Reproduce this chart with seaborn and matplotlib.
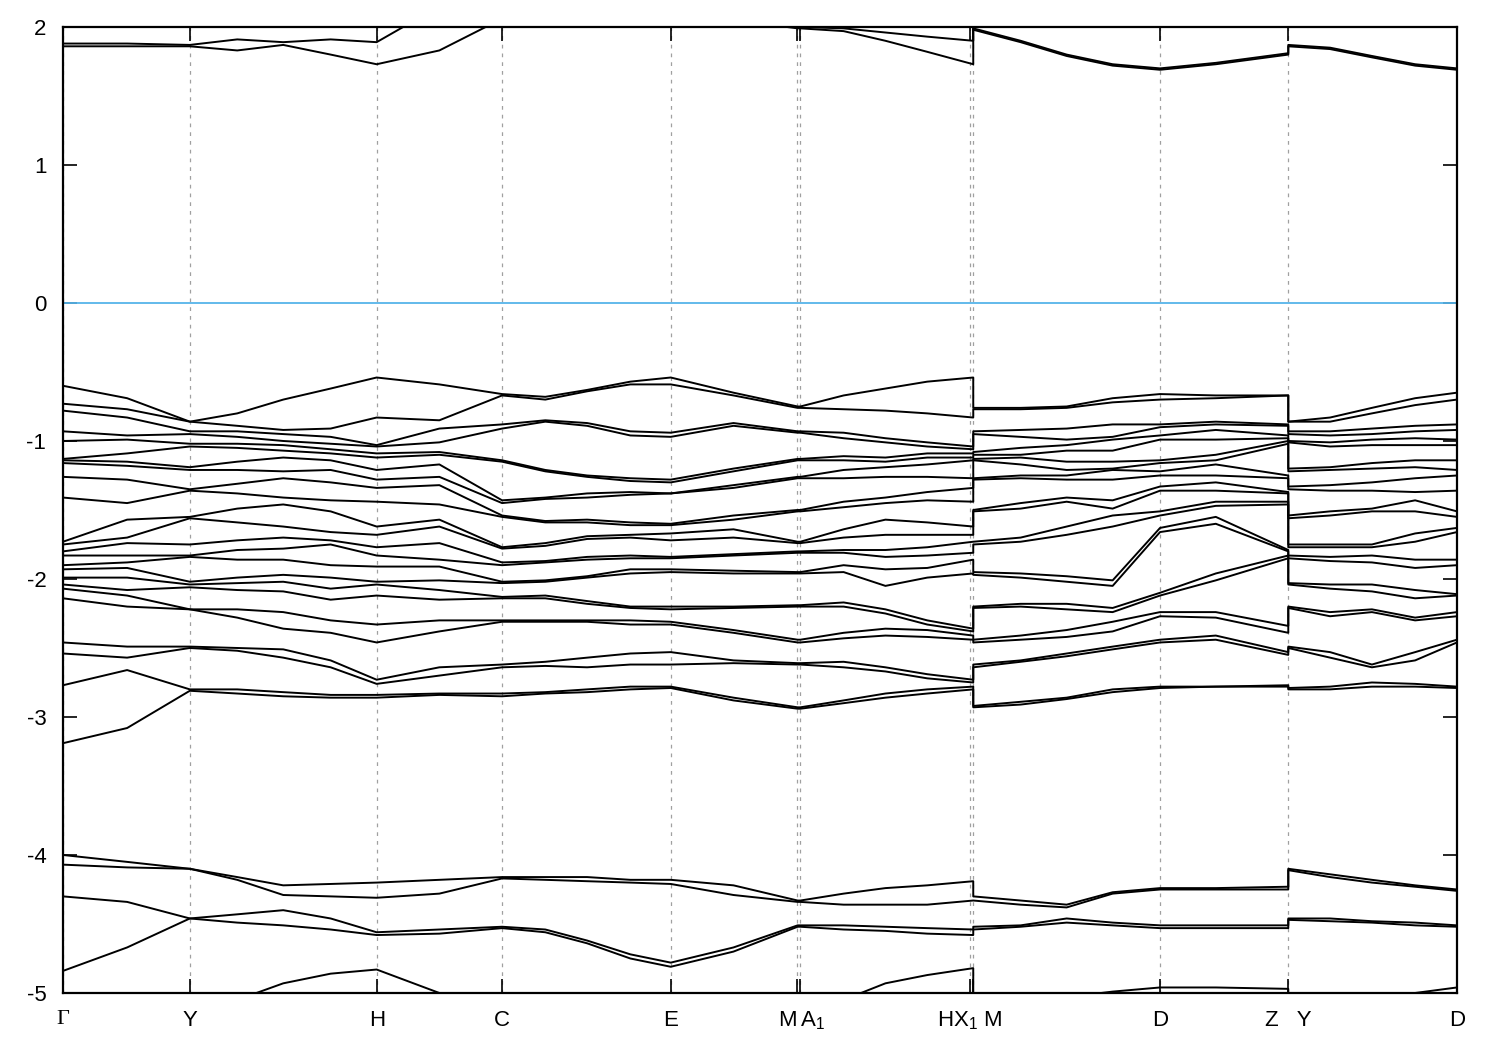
import numpy as np
import pandas as pd
import matplotlib
matplotlib.use("Agg")
import matplotlib.pyplot as plt
import seaborn as sns

# ------------------------------------------------------------------
# k-path (fraction of total path length) of each sampled point
# the two repeated values are the discontinuities H|X1 and Z|Y
# ------------------------------------------------------------------
kpath = [0.000, 0.046, 0.091, 0.125, 0.158, 0.192, 0.225, 0.270, 0.315, 0.346,
         0.376, 0.407, 0.436, 0.481, 0.527, 0.529, 0.560, 0.590, 0.620, 0.653,
         0.653, 0.687, 0.720, 0.753, 0.787, 0.827, 0.879, 0.879, 0.909, 0.939,
         0.970, 1.000]

tick_pos = [0.0, 0.0911, 0.2253, 0.3149, 0.4362, 0.5265, 0.5287, 0.6506, 0.6528,
            0.7869, 0.8788, 1.0]
tick_labels = ["Γ", "Y", "H", "C", "E", "M", "A$_1$", "HX$_1$ M", "", "D", "Z   Y", "D"]

# energies (eV) of the occupied bands at each k point, highest first
e_k00 = [-0.60, -0.73, -0.78, -0.93, -1.00, -1.13, -1.14, -1.16, -1.26, -1.41, -1.73, -1.75, -1.80, -1.83,
         -1.90, -1.93, -1.99, -2.04, -2.07, -2.14, -2.46, -2.54, -2.77, -3.19, -4.00, -4.07, -4.30, -4.84]
e_k01 = [-0.69, -0.77, -0.83, -0.96, -0.99, -1.09, -1.15, -1.18, -1.28, -1.45, -1.57, -1.70, -1.74, -1.83,
         -1.88, -1.92, -1.99, -2.08, -2.12, -2.20, -2.49, -2.57, -2.66, -3.08, -4.05, -4.09, -4.34, -4.67]
e_k02 = [-0.86, -0.86, -0.93, -0.95, -1.02, -1.04, -1.19, -1.21, -1.35, -1.36, -1.55, -1.56, -1.75, -1.83,
         -1.84, -2.02, -2.04, -2.06, -2.22, -2.22, -2.49, -2.50, -2.80, -2.81, -4.10, -4.10, -4.46, -4.46]
e_k03 = [-0.80, -0.89, -0.93, -0.97, -1.02, -1.05, -1.15, -1.21, -1.31, -1.38, -1.49, -1.59, -1.72, -1.79,
         -1.86, -1.99, -2.03, -2.08, -2.22, -2.28, -2.50, -2.52, -2.80, -2.83, -4.16, -4.18, -4.43, -4.49]
e_k04 = [-0.70, -0.92, -0.95, -1.00, -1.03, -1.07, -1.12, -1.22, -1.27, -1.41, -1.46, -1.62, -1.70, -1.78,
         -1.86, -1.97, -2.02, -2.09, -2.24, -2.36, -2.51, -2.57, -2.82, -2.85, -4.22, -4.29, -4.40, -4.51]
e_k05 = [-0.62, -0.91, -0.97, -1.02, -1.06, -1.09, -1.14, -1.21, -1.30, -1.43, -1.51, -1.66, -1.72, -1.75,
         -1.90, -1.99, -2.07, -2.15, -2.30, -2.39, -2.59, -2.64, -2.84, -2.86, -4.21, -4.30, -4.46, -4.54]
e_k06 = [-0.54, -0.83, -1.03, -1.04, -1.09, -1.12, -1.21, -1.28, -1.34, -1.44, -1.62, -1.68, -1.77, -1.83,
         -1.91, -2.02, -2.04, -2.12, -2.33, -2.46, -2.73, -2.76, -2.84, -2.86, -4.20, -4.31, -4.56, -4.58]
e_k07 = [-0.59, -0.85, -0.91, -1.01, -1.08, -1.10, -1.17, -1.26, -1.32, -1.46, -1.57, -1.62, -1.74, -1.86,
         -1.91, -2.01, -2.08, -2.15, -2.30, -2.38, -2.64, -2.70, -2.83, -2.84, -4.18, -4.28, -4.54, -4.57]
e_k08 = [-0.66, -0.67, -0.88, -0.91, -1.14, -1.15, -1.43, -1.45, -1.54, -1.55, -1.77, -1.78, -1.88, -1.90,
         -2.02, -2.03, -2.13, -2.14, -2.30, -2.31, -2.62, -2.64, -2.83, -2.85, -4.16, -4.17, -4.52, -4.53]
e_k09 = [-0.68, -0.70, -0.85, -0.86, -1.21, -1.22, -1.41, -1.42, -1.58, -1.59, -1.74, -1.76, -1.87, -1.88,
         -2.01, -2.02, -2.12, -2.14, -2.30, -2.31, -2.60, -2.63, -2.82, -2.83, -4.16, -4.18, -4.54, -4.56]
e_k10 = [-0.63, -0.64, -0.87, -0.89, -1.25, -1.26, -1.38, -1.41, -1.57, -1.59, -1.69, -1.71, -1.84, -1.86,
         -1.98, -1.99, -2.16, -2.18, -2.30, -2.31, -2.57, -2.64, -2.80, -2.82, -4.16, -4.19, -4.62, -4.64]
e_k11 = [-0.57, -0.59, -0.93, -0.96, -1.27, -1.29, -1.37, -1.39, -1.59, -1.61, -1.68, -1.70, -1.83, -1.85,
         -1.93, -1.96, -2.20, -2.21, -2.30, -2.33, -2.54, -2.62, -2.78, -2.80, -4.18, -4.20, -4.72, -4.75]
e_k12 = [-0.54, -0.59, -0.94, -0.97, -1.28, -1.30, -1.38, -1.38, -1.60, -1.61, -1.67, -1.72, -1.84, -1.85,
         -1.93, -1.95, -2.20, -2.22, -2.31, -2.33, -2.53, -2.62, -2.78, -2.79, -4.18, -4.21, -4.78, -4.81]
e_k13 = [-0.65, -0.67, -0.87, -0.89, -1.20, -1.22, -1.32, -1.34, -1.54, -1.57, -1.64, -1.70, -1.82, -1.83,
         -1.94, -1.96, -2.20, -2.21, -2.37, -2.39, -2.59, -2.61, -2.86, -2.88, -4.22, -4.29, -4.67, -4.70]
e_k14 = [-0.75, -0.76, -0.93, -0.94, -1.13, -1.14, -1.26, -1.27, -1.50, -1.51, -1.73, -1.74, -1.80, -1.81,
         -1.95, -1.96, -2.19, -2.20, -2.44, -2.46, -2.61, -2.62, -2.93, -2.94, -4.33, -4.34, -4.51, -4.52]
e_k15 = [-0.75, -0.76, -0.93, -0.94, -1.13, -1.14, -1.26, -1.27, -1.50, -1.51, -1.73, -1.74, -1.80, -1.81,
         -1.95, -1.96, -2.19, -2.20, -2.44, -2.46, -2.61, -2.62, -2.93, -2.94, -4.33, -4.34, -4.51, -4.52]
e_k16 = [-0.67, -0.77, -0.94, -0.98, -1.11, -1.14, -1.21, -1.27, -1.44, -1.48, -1.64, -1.70, -1.79, -1.81,
         -1.90, -1.95, -2.17, -2.20, -2.39, -2.43, -2.60, -2.64, -2.88, -2.90, -4.28, -4.36, -4.51, -4.54]
e_k17 = [-0.62, -0.78, -0.98, -1.01, -1.12, -1.15, -1.19, -1.26, -1.41, -1.45, -1.57, -1.68, -1.79, -1.84,
         -1.93, -2.05, -2.22, -2.25, -2.36, -2.41, -2.64, -2.67, -2.83, -2.86, -4.24, -4.36, -4.52, -4.55]
e_k18 = [-0.57, -0.80, -1.01, -1.04, -1.09, -1.12, -1.17, -1.26, -1.37, -1.43, -1.59, -1.68, -1.77, -1.83,
         -1.92, -1.99, -2.30, -2.33, -2.37, -2.42, -2.69, -2.72, -2.80, -2.83, -4.22, -4.36, -4.53, -4.57]
e_k19 = [-0.54, -0.83, -1.04, -1.06, -1.09, -1.12, -1.14, -1.27, -1.34, -1.44, -1.62, -1.68, -1.73, -1.81,
         -1.86, -1.96, -2.36, -2.38, -2.41, -2.44, -2.73, -2.75, -2.78, -2.80, -4.19, -4.33, -4.54, -4.58]
e_k20 = [-0.76, -0.77, -0.93, -0.95, -1.08, -1.10, -1.13, -1.14, -1.27, -1.28, -1.50, -1.51, -1.73, -1.75,
         -1.95, -1.97, -2.20, -2.21, -2.44, -2.46, -2.62, -2.64, -2.92, -2.93, -4.30, -4.33, -4.52, -4.54]
e_k21 = [-0.76, -0.77, -0.92, -0.97, -1.05, -1.10, -1.12, -1.17, -1.25, -1.27, -1.45, -1.49, -1.70, -1.73,
         -1.96, -1.99, -2.18, -2.20, -2.41, -2.44, -2.59, -2.60, -2.89, -2.91, -4.33, -4.36, -4.51, -4.52]
e_k22 = [-0.75, -0.76, -0.91, -0.99, -1.03, -1.07, -1.15, -1.21, -1.25, -1.28, -1.41, -1.44, -1.62, -1.68,
         -1.98, -2.02, -2.18, -2.22, -2.37, -2.42, -2.54, -2.56, -2.86, -2.87, -4.36, -4.38, -4.46, -4.49]
e_k23 = [-0.69, -0.72, -0.88, -0.97, -0.99, -1.07, -1.15, -1.20, -1.21, -1.28, -1.43, -1.49, -1.54, -1.62,
         -2.01, -2.05, -2.21, -2.24, -2.31, -2.38, -2.49, -2.51, -2.80, -2.82, -4.27, -4.28, -4.49, -4.51]
e_k24 = [-0.66, -0.70, -0.88, -0.90, -0.96, -0.99, -1.14, -1.16, -1.22, -1.25, -1.33, -1.36, -1.51, -1.54,
         -1.63, -1.66, -2.10, -2.12, -2.24, -2.27, -2.44, -2.46, -2.78, -2.79, -4.24, -4.25, -4.51, -4.53]
e_k25 = [-0.67, -0.69, -0.86, -0.88, -0.92, -0.99, -1.10, -1.14, -1.17, -1.25, -1.30, -1.36, -1.44, -1.47,
         -1.55, -1.60, -1.96, -2.01, -2.24, -2.28, -2.41, -2.44, -2.78, -2.78, -4.24, -4.25, -4.51, -4.53]
e_k26 = [-0.67, -0.67, -0.88, -0.89, -0.96, -0.98, -1.00, -1.02, -1.25, -1.27, -1.37, -1.38, -1.44, -1.46,
         -1.79, -1.80, -1.83, -1.85, -2.34, -2.39, -2.53, -2.55, -2.77, -2.78, -4.23, -4.25, -4.51, -4.53]
e_k27 = [-0.86, -0.86, -0.93, -0.95, -1.00, -1.01, -1.20, -1.22, -1.33, -1.35, -1.54, -1.56, -1.75, -1.77,
         -1.83, -1.85, -2.03, -2.04, -2.20, -2.21, -2.49, -2.50, -2.79, -2.80, -4.10, -4.11, -4.46, -4.47]
e_k28 = [-0.83, -0.86, -0.93, -0.96, -1.01, -1.04, -1.19, -1.21, -1.32, -1.36, -1.51, -1.54, -1.75, -1.77,
         -1.84, -1.87, -2.04, -2.07, -2.24, -2.27, -2.53, -2.57, -2.78, -2.80, -4.14, -4.16, -4.46, -4.48]
e_k29 = [-0.76, -0.80, -0.91, -0.95, -0.99, -1.03, -1.16, -1.20, -1.30, -1.36, -1.49, -1.51, -1.75, -1.77,
         -1.83, -1.88, -2.04, -2.09, -2.22, -2.24, -2.62, -2.64, -2.75, -2.78, -4.18, -4.20, -4.48, -4.49]
e_k30 = [-0.69, -0.74, -0.89, -0.93, -0.98, -1.03, -1.14, -1.19, -1.27, -1.37, -1.43, -1.51, -1.67, -1.73,
         -1.86, -1.92, -2.08, -2.14, -2.28, -2.30, -2.53, -2.59, -2.76, -2.78, -4.22, -4.23, -4.49, -4.51]
e_k31 = [-0.65, -0.70, -0.88, -0.92, -0.99, -1.03, -1.14, -1.21, -1.25, -1.36, -1.51, -1.55, -1.63, -1.66,
         -1.86, -1.90, -2.11, -2.12, -2.24, -2.27, -2.44, -2.46, -2.78, -2.79, -4.25, -4.26, -4.51, -4.52]

# deepest visible band (mostly below the window)
deep_band = [-5.60, -5.45, -5.30, -5.05, -4.93, -4.86, -4.83, -5.00, -5.20, -5.30, -5.35, -5.40,
             -5.40, -5.35, -5.20, -5.19, -5.05, -4.93, -4.87, -4.82, -5.10, -5.08, -5.03, -4.99,
             -4.96, -4.96, -4.97, -5.10, -5.08, -5.05, -5.00, -4.96]

# the two conduction bands near 2 eV
cond_lo = [1.86, 1.86, 1.86, 1.83, 1.87, 1.80, 1.73, 1.83, 2.06, 2.15, 2.20, 2.20, 2.20, 2.05, 1.99, 1.99,
           1.97, 1.90, 1.82, 1.73, 1.98, 1.89, 1.79, 1.72, 1.69, 1.73, 1.80, 1.86, 1.84, 1.78, 1.72, 1.69]
cond_hi = [1.88, 1.88, 1.87, 1.91, 1.89, 1.91, 1.89, 2.15, 2.30, 2.40, 2.45, 2.45, 2.45, 2.10, 2.00, 2.00,
           1.99, 1.96, 1.93, 1.90, 1.99, 1.90, 1.80, 1.73, 1.70, 1.74, 1.81, 1.87, 1.85, 1.79, 1.73, 1.70]


def build_frame():
    cols = [e_k00, e_k01, e_k02, e_k03, e_k04, e_k05, e_k06, e_k07, e_k08, e_k09, e_k10,
            e_k11, e_k12, e_k13, e_k14, e_k15, e_k16, e_k17, e_k18, e_k19, e_k20, e_k21,
            e_k22, e_k23, e_k24, e_k25, e_k26, e_k27, e_k28, e_k29, e_k30, e_k31]
    grid = np.array(cols)
    bands = {f"vb{b:02d}": grid[:, b] for b in range(grid.shape[1])}
    bands["deep"] = deep_band
    bands["cb1"] = cond_lo
    bands["cb2"] = cond_hi
    rows = []
    for name, vals in bands.items():
        for i, (k, e) in enumerate(zip(kpath, vals)):
            rows.append({"band": name, "idx": i, "k": k, "energy": e})
    return pd.DataFrame(rows)


df = build_frame()

sns.set_style("ticks")
plt.rcParams["font.family"] = ["Liberation Sans", "DejaVu Sans"]
plt.rcParams["mathtext.default"] = "regular"
plt.rcParams["axes.unicode_minus"] = False

fig = plt.figure(figsize=(15, 10.5), dpi=100)
ax = fig.add_axes([0.042, 0.0543, 0.9293, 0.9200])

for x in tick_pos:
    ax.axvline(x, color="#a0a0a0", lw=0.9, ls=(0, (3, 4)), zorder=0)

ax.axhline(0, color="#56b4e9", lw=1.3, zorder=1)

sns.lineplot(data=df, x="k", y="energy", units="band", estimator=None, sort=False,
             color="black", lw=1.4, ax=ax, zorder=2)

ax.set_xlim(0, 1)
ax.set_ylim(-5, 2)
ax.set_yticks(range(-5, 3))
ax.set_xticks(tick_pos)
ax.set_xticklabels(tick_labels)
xlabs = ax.get_xticklabels()
xlabs[0].set_family(["Liberation Serif", "DejaVu Serif"])
# M and A1 sit almost on top of each other: push them apart
xlabs[5].set_horizontalalignment("right")
xlabs[6].set_horizontalalignment("left")
ax.set_xlabel("")
ax.set_ylabel("")

ax.tick_params(axis="both", direction="in", length=10, width=1.2, labelsize=16,
               top=True, right=True, colors="black")
ax.tick_params(axis="x", pad=12)
ax.tick_params(axis="y", pad=12)
for s in ax.spines.values():
    s.set_linewidth(1.6)
    s.set_color("black")

fig.savefig("out.png", dpi=100, facecolor="white")
